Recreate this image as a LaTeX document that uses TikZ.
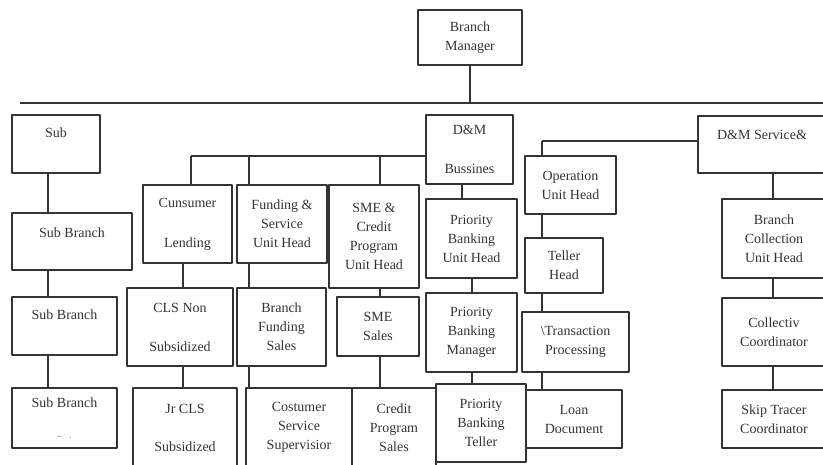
\documentclass[tikz,border=0pt]{standalone}
\usepackage{fontspec}
\setmainfont{Liberation Serif}
\begin{document}
\begin{tikzpicture}[x=1pt, y=-1pt, line join=round, font=\fontsize{14}{19}\selectfont,
  box/.style={draw=black!80, line width=1.1pt, align=center, inner sep=0pt, text=black!80},
  wh/.style 2 args={minimum width=#1, minimum height=#2},
  link/.style={draw=black!80, line width=1.1pt}]
\useasboundingbox (0,0) rectangle (823,464);
% top
\node[box, wh={104}{55}] (manager) at (470,37.5) {Branch\\Manager};
\coordinate (busL) at (20,103);
\coordinate (busR) at (823,103);
\draw[link] (busL) -- (busR);
\draw[link] (manager) -- (manager |- busL);
% sub branches
\coordinate (subline) at (48,0);
\node[box, wh={88}{58}] (sub) at (56,144) {Sub\\[4pt]\mbox{}};
\node[box, wh={120}{57}] (subbr1) at (72,241.5) {Sub Branch\\[-2pt]\mbox{}};
\node[box, wh={105}{58}] (subbr2) at (64.5,326) {Sub Branch\\[3pt]\mbox{}};
\node[box, wh={105}{60}] (subbr3) at (64.5,418) {Sub Branch\\[12pt]{\footnotesize --\quad .}};
\draw[link] (sub.south -| subline) -- (subbr1.north -| subline);
\draw[link] (subbr1.south -| subline) -- (subbr2.north -| subline);
\draw[link] (subbr2.south -| subline) -- (subbr3.north -| subline);
% D&M business
\node[box, wh={87}{69}] (business) at (469.5,149.5) {D\&M\\[20pt]Bussines};
\coordinate (cbus) at (191,156);
\coordinate (clsline) at (183,0);
\coordinate (fundline) at (249,0);
\coordinate (smeline) at (380,0);
\coordinate (dmline) at (462,0);
\coordinate (pbline) at (472,0);
\node[box, wh={89}{78}] (consumer) at (187.5,224) {Cunsumer\\[21pt]Lending};
\node[box, wh={90}{78}] (funding) at (282,224) {Funding \&\\Service\\Unit Head};
\node[box, wh={90}{103}] (smeunit) at (374,236.5) {SME \&\\Credit\\Program\\Unit Head};
\node[box, wh={106}{78}] (clsnon) at (180,327) {CLS Non\\[20pt]Subsidized};
\node[box, wh={89}{78}] (fundsales) at (281.5,327) {Branch\\Funding\\Sales};
\node[box, wh={82}{59}] (smesales) at (378,326.5) {SME\\Sales};
\node[box, wh={104}{79}] (jrcls) at (185,427.5) {Jr CLS\\[19pt]Subsidized};
\node[box, wh={106}{79}] (custserv) at (299,427.5) {Costumer\\Service\\Supervisior};
\node[box, wh={84}{79}] (creditsales) at (394,427.5) {Credit\\Program\\Sales};
\node[box, wh={91}{79}] (pbunit) at (471.5,238.5) {Priority\\Banking\\Unit Head};
\node[box, wh={91}{79}] (pbmanager) at (471.5,332.5) {Priority\\Banking\\Manager};
\node[box, wh={90}{78}] (pbteller) at (481,423) {Priority\\Banking\\Teller};
\draw[link] (cbus) -- (cbus -| business.west);
\draw[link] (cbus) -- (cbus |- consumer.north);
\draw[link] (cbus -| fundline) -- (funding.north -| fundline);
\draw[link] (cbus -| smeline) -- (smeunit.north -| smeline);
\draw[link] (consumer.south -| clsline) -- (clsnon.north -| clsline);
\draw[link] (clsnon.south -| clsline) -- (jrcls.north -| clsline);
\draw[link] (funding.south -| fundline) -- (fundsales.north -| fundline);
\draw[link] (fundsales.south -| fundline) -- (custserv.north -| fundline);
\draw[link] (smeunit.south -| smeline) -- (smesales.north -| smeline);
\draw[link] (smesales.south -| smeline) -- (creditsales.north -| smeline);
\draw[link] (business.south -| dmline) -- (pbunit.north -| dmline);
\draw[link] (pbunit.south -| pbline) -- (pbmanager.north -| pbline);
\draw[link] (pbmanager.south -| pbline) -- (pbteller.north -| pbline);
% operation
\coordinate (opbus) at (542,141);
\node[box, wh={91}{58}] (opunit) at (570.5,185) {Operation\\Unit Head};
\node[box, wh={78}{55}] (tellerhead) at (564,265.5) {Teller\\Head};
\node[box, wh={107}{60}] (transaction) at (575.5,342) {\textbackslash Transaction\\Processing};
\node[box, wh={96}{58}] (loandoc) at (574,419) {Loan\\Document};
\draw[link] (opbus) -- (opunit.north -| opbus);
\draw[link] (opunit.south -| opbus) -- (tellerhead.north -| opbus);
\draw[link] (tellerhead.south -| opbus) -- (transaction.north -| opbus);
\draw[link] (transaction.south -| opbus) -- (loandoc.north -| opbus);
% D&M service
\coordinate (collline) at (773,0);
\node[box, wh={128}{57}] (service) at (762,144.5) {D\&M Service\&\\[1pt]\mbox{}};
\node[box, wh={104}{79}] (collunit) at (774,238.5) {Branch\\Collection\\Unit Head};
\node[box, wh={104}{68}] (collcoord) at (774,332) {Collectiv\\Coordinator};
\node[box, wh={104}{58}] (skiptracer) at (774,419) {Skip Tracer\\Coordinator};
\draw[link] (opbus) -- (opbus -| service.west);
\draw[link] (service.south -| collline) -- (collunit.north -| collline);
\draw[link] (collunit.south -| collline) -- (collcoord.north -| collline);
\draw[link] (collcoord.south -| collline) -- (skiptracer.north -| collline);
\end{tikzpicture}
\end{document}
